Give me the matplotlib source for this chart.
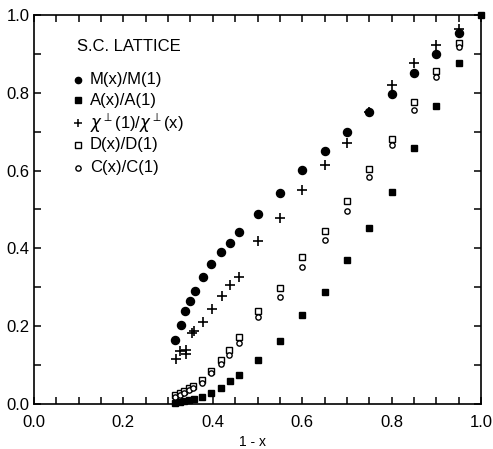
import matplotlib
matplotlib.use("Agg")
import matplotlib.pyplot as plt
from matplotlib.ticker import MultipleLocator

plt.rcParams['font.family'] = ['Liberation Sans', 'DejaVu Sans']

# M(x)/M(1) - filled circles
m_x = [0.315, 0.328, 0.338, 0.348, 0.360, 0.379, 0.397, 0.418, 0.438, 0.459,
       0.50, 0.55, 0.60, 0.65, 0.70, 0.75, 0.80, 0.85, 0.90, 0.95]
m_y = [0.164, 0.204, 0.240, 0.265, 0.291, 0.327, 0.360, 0.390, 0.415, 0.443,
       0.488, 0.542, 0.602, 0.650, 0.699, 0.751, 0.798, 0.852, 0.900, 0.955]

# A(x)/A(1) - filled squares
a_x = [0.316, 0.326, 0.336, 0.346, 0.359, 0.376, 0.395, 0.418, 0.438, 0.459,
       0.50, 0.55, 0.60, 0.65, 0.70, 0.75, 0.80, 0.85, 0.90, 0.95, 1.0]
a_y = [0.003, 0.005, 0.007, 0.010, 0.014, 0.018, 0.029, 0.042, 0.060, 0.075,
       0.113, 0.163, 0.228, 0.288, 0.370, 0.453, 0.546, 0.657, 0.766, 0.877, 1.0]

# chi_perp(1)/chi_perp(x) - plus
c_perp_x = [0.317, 0.327, 0.339, 0.339, 0.353, 0.358, 0.379, 0.398, 0.420, 0.438, 0.459,
            0.50, 0.55, 0.60, 0.65, 0.70, 0.75, 0.80, 0.85, 0.90, 0.95]
c_perp_y = [0.115, 0.137, 0.139, 0.128, 0.183, 0.188, 0.211, 0.243, 0.278, 0.306, 0.326,
            0.420, 0.477, 0.550, 0.614, 0.670, 0.751, 0.820, 0.877, 0.924, 0.963]

# D(x)/D(1) - open squares
d_x = [0.316, 0.326, 0.336, 0.346, 0.356, 0.376, 0.396, 0.418, 0.437, 0.459,
       0.50, 0.55, 0.60, 0.65, 0.70, 0.75, 0.80, 0.85, 0.90, 0.95]
d_y = [0.022, 0.027, 0.034, 0.040, 0.047, 0.062, 0.086, 0.112, 0.138, 0.171,
       0.240, 0.297, 0.379, 0.446, 0.523, 0.603, 0.680, 0.776, 0.857, 0.929]

# C(x)/C(1) - open circles
c_x = d_x
c_y = [0.018, 0.023, 0.029, 0.035, 0.041, 0.055, 0.079, 0.104, 0.127, 0.156,
       0.224, 0.276, 0.353, 0.422, 0.497, 0.583, 0.665, 0.756, 0.840, 0.919]

x_ticks = [0.0, 0.2, 0.4, 0.6, 0.8, 1.0]
y_ticks = [0.0, 0.2, 0.4, 0.6, 0.8, 1.0]
tick_labels = ["0.0", "0.2", "0.4", "0.6", "0.8", "1.0"]

legend_title = "S.C. LATTICE"
legend_labels = ["M(x)/M(1)", "A(x)/A(1)", r"$\chi^{\perp}$(1)/$\chi^{\perp}$(x)",
                 "D(x)/D(1)", "C(x)/C(1)"]

fig = plt.figure(figsize=(4.93, 4.49), dpi=100)
ax = fig.add_axes([34/493, 1 - 404/449, 447/493, 389/449])

ax.plot(m_x, m_y, 'o', color='black', ms=5.8, mec='black', clip_on=False, zorder=3)
ax.plot(a_x, a_y, 's', color='black', ms=5.0, mec='black', clip_on=False, zorder=3)
ax.plot(c_perp_x, c_perp_y, '+', color='black', ms=7, mew=1.2, clip_on=False, zorder=3)
ax.plot(d_x, d_y, 's', mfc='white', mec='black', ms=3.8, mew=1.0, clip_on=False, zorder=2)
ax.plot(c_x, c_y, 'o', mfc='white', mec='black', ms=3.8, mew=1.0, clip_on=False, zorder=2)

ax.set_xlim(0, 1)
ax.set_ylim(0, 1)
ax.set_xticks(x_ticks)
ax.set_xticklabels(tick_labels)
ax.set_yticks(y_ticks)
ax.set_yticklabels(tick_labels)
ax.xaxis.set_minor_locator(MultipleLocator(0.05))
ax.yaxis.set_minor_locator(MultipleLocator(0.1))
ax.tick_params(which='both', direction='in', top=True, right=True, length=5, width=1.1,
               labelsize=12)
ax.tick_params(axis='x', which='major', pad=8)
ax.tick_params(axis='y', which='major', pad=3)
for s in ax.spines.values():
    s.set_linewidth(1.2)

ax.text(0.488, -0.098, "1 - x", transform=ax.transAxes, ha='center', va='center', fontsize=10)

# legend
ax.text(0.096, 0.920, legend_title, transform=ax.transAxes, ha='left', va='center', fontsize=12)
rows_y = [0.833, 0.781, 0.722, 0.666, 0.607]
styles = [dict(marker='o', color='black', ms=4.5),
          dict(marker='s', color='black', ms=4.0),
          dict(marker='+', color='black', ms=6, mew=1.1),
          dict(marker='s', mfc='white', mec='black', ms=3.8, mew=1.0),
          dict(marker='o', mfc='white', mec='black', ms=3.8, mew=1.0)]
for yy, lab, st in zip(rows_y, legend_labels, styles):
    ax.plot([0.098], [yy], linestyle='none', transform=ax.transAxes, **st)
    ax.text(0.125, yy, lab, transform=ax.transAxes, ha='left', va='center', fontsize=12)

fig.savefig("out.png", dpi=100)
